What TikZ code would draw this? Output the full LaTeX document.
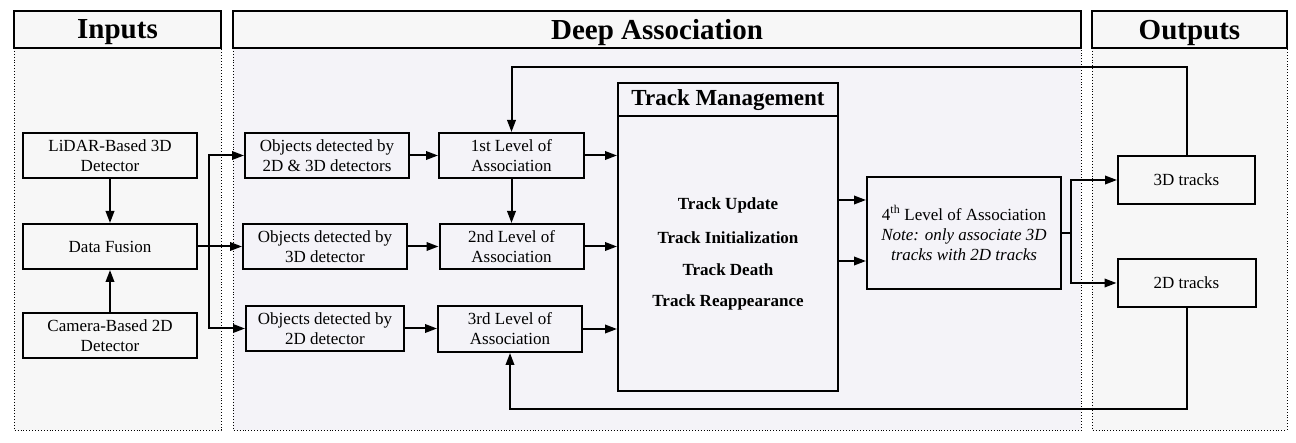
\documentclass[tikz,border=0pt]{standalone}
\usepackage{fontspec}
\setmainfont{Liberation Serif}
\usetikzlibrary{arrows.meta}
\definecolor{regA}{HTML}{F7F7F7}
\definecolor{regB}{HTML}{F4F3F8}
\begin{document}
\begin{tikzpicture}[x=1pt,y=-1pt,
  box/.style={draw, line width=2pt, align=center, inner sep=0pt, font=\fontsize{17}{20}\selectfont},
  hdr/.style={draw, line width=2.6pt, fill=regA, inner sep=0pt, minimum height=37pt, text depth=0pt, font=\fontsize{29}{31}\selectfont\bfseries},
  region/.style={draw, dotted, line width=0.9pt},
  conn/.style={line width=2pt},
  arr/.style={conn, -{Triangle[length=12pt,width=8.5pt]}},
  item/.style={font=\fontsize{17}{20}\selectfont\bfseries}]
\useasboundingbox (0,0) rectangle (1296,443);
% regions
\path[region, fill=regA] (14,48) rectangle (221,430);
\path[region, fill=regB] (233,48) rectangle (1081,430);
\path[region, fill=regA] (1092,48) rectangle (1287,430);
% headers
\node[hdr, minimum width=207pt] (hIn) at (117.5,29.5) {Inputs};
\node[hdr, minimum width=848pt] (hDA) at (657,29.5) {Deep Association};
\node[hdr, minimum width=195pt] (hOut) at (1189.5,29.5) {Outputs};
% inputs
\node[box, minimum width=174pt, minimum height=45pt] (lidar) at (110,155.5) {LiDAR-Based 3D\\Detector};
\node[box, minimum width=174pt, minimum height=45pt] (fusion) at (110,246.5) {Data Fusion};
\node[box, minimum width=174pt, minimum height=45pt] (camera) at (110,335.5) {Camera-Based 2D\\Detector};
% objects
\node[box, minimum width=164pt, minimum height=45pt] (obj1) at (327,155.5) {Objects detected by\\2D \& 3D detectors};
\node[box, minimum width=164pt, minimum height=45pt] (obj2) at (325,246.5) {Objects detected by\\3D detector};
\node[box, minimum width=158pt, minimum height=45pt] (obj3) at (325,328.5) {Objects detected by\\2D detector};
% levels
\node[box, minimum width=145pt, minimum height=45pt] (l1) at (511.5,155.5) {1st Level of\\Association};
\node[box, minimum width=144pt, minimum height=45pt] (l2) at (511.5,246.5) {2nd Level of\\Association};
\node[box, minimum width=144pt, minimum height=46pt] (l3) at (510,329) {3rd Level of\\Association};
% track management
\node[box, minimum width=220pt, minimum height=308pt] (tm) at (728,237) {};
\coordinate (tmsep) at (728,116);
\draw[line width=2pt] (tm.west |- tmsep) -- (tm.east |- tmsep);
\node[font=\fontsize{23}{25}\selectfont\bfseries] (tmt) at (728,100) {Track Management};
\node[item] (i1) at (728,205) {Track Update};
\node[item] (i2) at (728,237.5) {Track Initialization};
\node[item] (i3) at (728,270) {Track Death};
\node[item] (i4) at (728,302) {Track Reappearance};
% 4th level
\node[box, minimum width=194pt, minimum height=112pt] (l4) at (964,233) {4\textsuperscript{th} Level of Association\\\textit{Note: only associate 3D}\\\textit{tracks with 2D tracks}};
% outputs
\node[box, minimum width=137pt, minimum height=48pt] (t3) at (1186.5,180) {3D tracks};
\node[box, minimum width=138pt, minimum height=48pt] (t2) at (1186.5,283) {2D tracks};
% connectors
\draw[arr] (lidar) -- (fusion);
\draw[arr] (camera) -- (fusion);
\coordinate (split) at (209,246.5);
\draw[conn] (fusion.east) -- (split);
\draw[arr] (split) -- (obj2.west);
\draw[arr] (split) |- (obj1.west);
\draw[arr] (split) |- (obj3.west);
\draw[arr] (obj1) -- (l1);
\draw[arr] (obj2) -- (l2);
\draw[arr] (obj3.east) -- (l3.west |- obj3.east);
\draw[arr] (l1) -- (l2);
\draw[arr] (l1.east) -- (tm.west |- l1.east);
\draw[arr] (l2.east) -- (tm.west |- l2.east);
\draw[arr] (l3.east) -- (tm.west |- l3.east);
\coordinate (ya) at (900,200);
\coordinate (yb) at (900,261);
\draw[arr] (tm.east |- ya) -- (l4.west |- ya);
\draw[arr] (tm.east |- yb) -- (l4.west |- yb);
\coordinate (split2) at (1071,233);
\draw[conn] (l4.east) -- (split2);
\draw[arr] (split2) |- (t3.west);
\draw[arr] (split2) |- (t2.west);
\coordinate (fbtop) at (511.5,67);
\coordinate (fbbot) at (510,409);
\draw[arr] (t3.north) |- (fbtop) -- (l1.north);
\draw[arr] (t2.south) |- (fbbot) -- (l3.south);
\end{tikzpicture}
\end{document}
